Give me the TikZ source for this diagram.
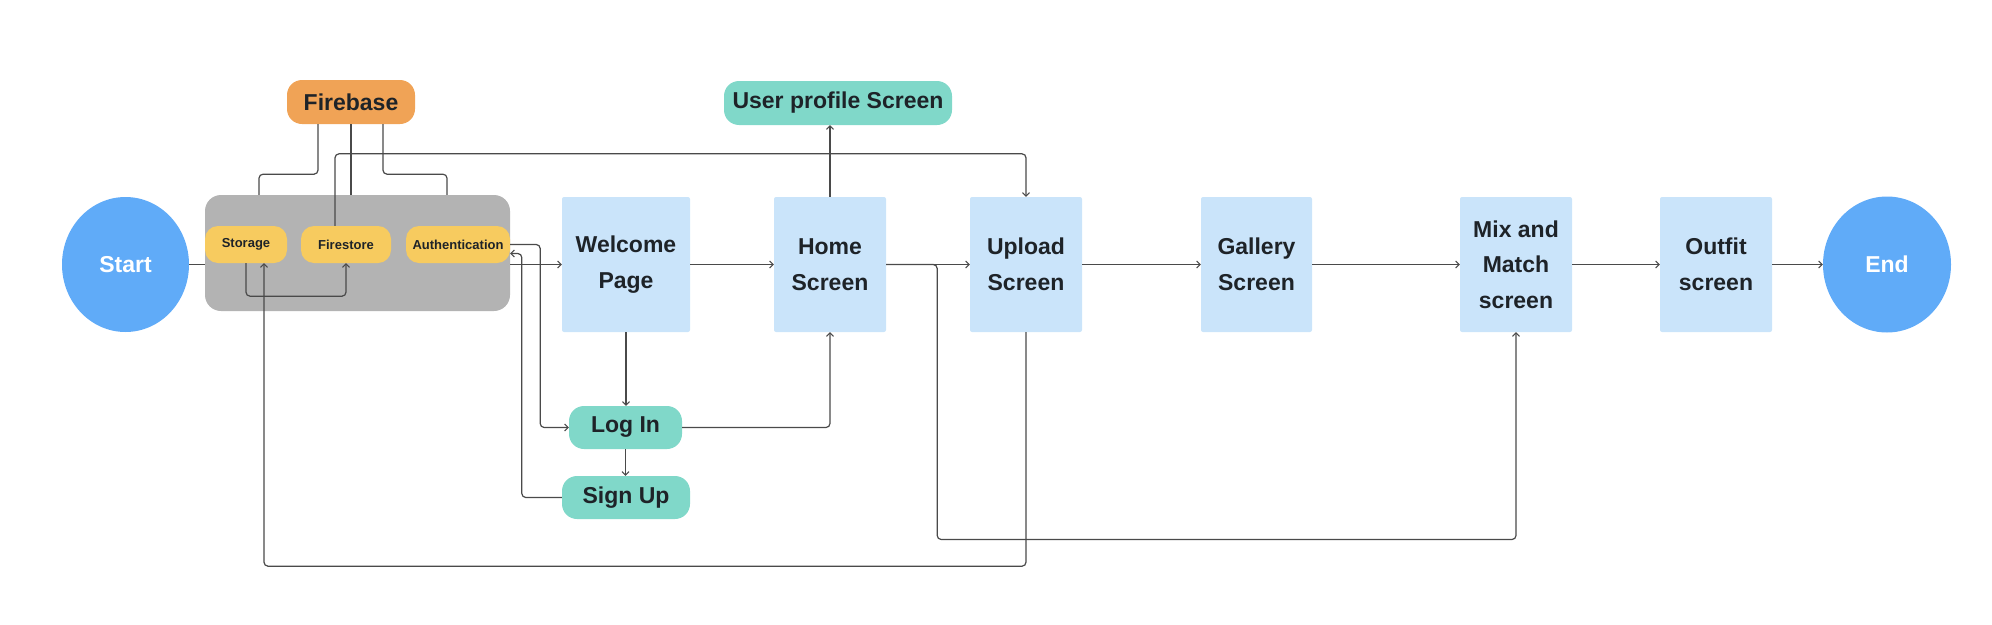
\documentclass[tikz,border=0pt]{standalone}
\usepackage{fontspec}
\setmainfont{Liberation Sans}
\usetikzlibrary{shapes.geometric,arrows.meta,calc}
\definecolor{scrblue}{HTML}{CAE4FA}
\definecolor{termblue}{HTML}{60ABF8}
\definecolor{teal}{HTML}{80D8C9}
\definecolor{fborange}{HTML}{F0A356}
\definecolor{fbyellow}{HTML}{F7CB5F}
\definecolor{grouping}{HTML}{B3B3B3}
\definecolor{txt}{HTML}{1E2328}
\definecolor{ln}{HTML}{4A4A4A}
\tikzset{
  screen/.style={rectangle, rounded corners=2pt, fill=scrblue, minimum width=#1, minimum height=135pt, inner sep=0pt, align=center, text=txt, font=\bfseries\fontsize{23}{35.5}\selectfont},
  term/.style={ellipse, fill=termblue, inner sep=0pt, text=white, font=\bfseries\fontsize{23}{30}\selectfont},
  pill/.style={rectangle, rounded corners=15pt, fill=teal, inner sep=0pt, text=txt, font=\bfseries\fontsize{23}{30}\selectfont},
  svc/.style={rectangle, rounded corners=13pt, fill=fbyellow, inner sep=0pt, minimum height=37pt, text=txt, font=\bfseries\fontsize{13}{15}\selectfont},
  conn/.style={draw=ln, line width=1.2pt, rounded corners=4pt},
  arr/.style={conn, -{Straight Barb[length=3.5pt,width=7pt,line width=1pt]}}
}
\begin{document}
\begin{tikzpicture}[x=1pt,y=-1pt]
\useasboundingbox (0,0) rectangle (1992,624);
% nodes
\node[term, minimum width=127pt, minimum height=135pt] (start) at (125.5,264.5) {Start};
\node[term, minimum width=128pt, minimum height=136pt] (end) at (1887,264.5) {End};
\node[rectangle, rounded corners=16pt, fill=grouping, minimum width=305pt, minimum height=116pt, inner sep=0pt] (gray) at (357.5,253) {};
\node[svc, minimum width=82pt] (storage) at (246,244.5) {Storage};
\node[svc, minimum width=90pt] (firestore) at (346,244.5) {Firestore};
\node[svc, minimum width=104pt] (auth) at (458,244.5) {Authentication};
\node[pill, fill=fborange, minimum width=128pt, minimum height=44pt] (firebase) at (351,102) {Firebase};
\node[screen=128pt] (welcome) at (626,264.5) {Welcome\\Page};
\node[screen=112pt] (home) at (830,264.5) {Home\\Screen};
\node[screen=112pt] (upload) at (1026,264.5) {Upload\\Screen};
\node[screen=111pt] (gallery) at (1256.5,264.5) {Gallery\\Screen};
\node[screen=112pt] (mix) at (1516,264.5) {Mix and\\Match\\screen};
\node[screen=112pt] (outfit) at (1716,264.5) {Outfit\\screen};
\node[pill, minimum width=228pt, minimum height=44pt] (profile) at (838,103) {User profile Screen};
\node[pill, minimum width=113pt, minimum height=43pt] (login) at (625.5,427.5) {Log In};
\node[pill, minimum width=128pt, minimum height=43pt] (signup) at (626,497.5) {Sign Up};
% connectors
\draw[conn] (start.east) -- (start.east -| gray.west);
\draw[conn] ([xshift=-33pt]firebase.south) -- ++(0,50) -| ([xshift=-98.5pt]gray.north);
\draw[conn] (firebase.south) -- (firebase.south |- gray.north);
\draw[conn] ([xshift=32pt]firebase.south) -- ++(0,50) -| ([xshift=89.5pt]gray.north);
\draw[arr] ([xshift=-11pt]firestore.north) |- ([yshift=43pt]upload.north) -- (upload.north);
\draw[arr] (storage.south) -- ++(0,33) -| (firestore.south);
\draw[arr] (upload.south) -- ++(0,234) -| ([xshift=18pt]storage.south);
\draw[arr] (gray.east |- welcome.west) -- (welcome.west);
\draw[arr] (auth.east) -- ++(30,0) |- (login.west);
\draw[arr] (signup.west) -- ++(-40,0) |- ([yshift=-9pt]auth.east);
\draw[arr] (welcome.east) -- (home.west);
\draw[arr] (welcome.south) -- (welcome.south |- login.north);
\draw[arr] (login.south) -- (login.south |- signup.north);
\draw[arr] (login.east) -| (home.south);
\draw[arr] (home.north) -- (home.north |- profile.south);
\draw[arr] (home.east) -- (upload.west);
\draw[arr] (home.east) -- ++(51,0) -- ++(0,275) -| (mix.south);
\draw[arr] (upload.east) -- (gallery.west);
\draw[arr] (gallery.east) -- (mix.west);
\draw[arr] (mix.east) -- (outfit.west);
\draw[arr] (outfit.east) -- (end.west);
\end{tikzpicture}
\end{document}
